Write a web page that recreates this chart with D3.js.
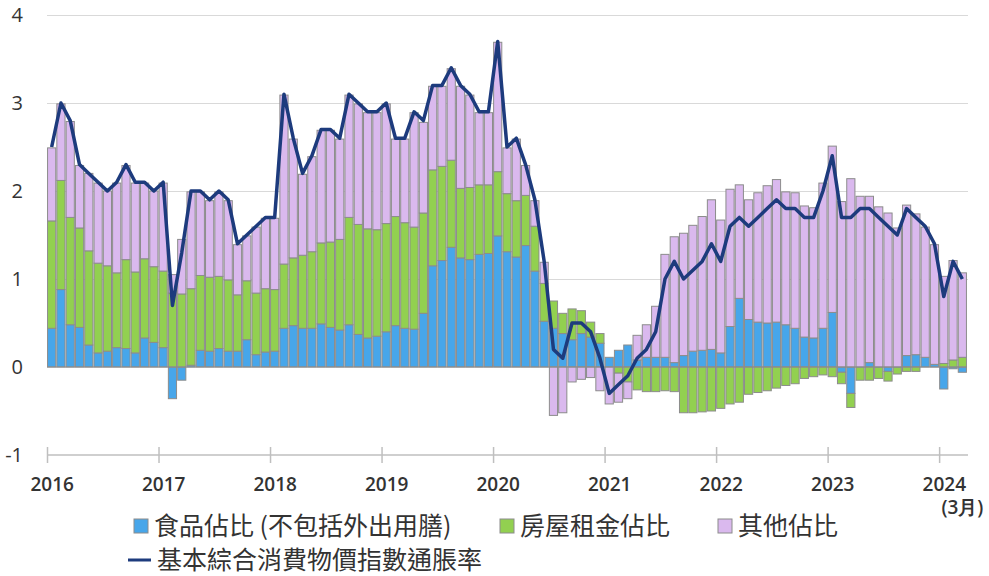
<!DOCTYPE html>
<html>
<head>
<meta charset="utf-8">
<script src="https://cdn.jsdelivr.net/npm/d3@7"></script>
<style>
    html, body { margin: 0; padding: 0; background: #fff; }
    svg text { font-family: "Open Sans", "Noto Sans", sans-serif; fill: #333; }
    .legend text { font-family: "Noto Sans CJK TC", "Noto Sans", sans-serif; }
</style>
</head>
<body>
<svg id="chart" width="989" height="576"></svg>
<script>
'use strict';

// monthly categories Jan 2016 .. Mar 2024
const months = d3.timeMonths(new Date(2016, 0, 1), new Date(2024, 3, 1)).map(d3.timeFormat('%Y-%m'));
const yearLabels = ['2016', '2017', '2018', '2019', '2020', '2021', '2022', '2023', '2024'];
const yTicks = [-1, 0, 1, 2, 3, 4];

// contribution (percentage points)
const food = [
    0.44, 0.88, 0.48, 0.45, 0.25, 0.16, 0.18, 0.22, 0.21, 0.16, 0.33, 0.28,
    0.22, -0.36, -0.15, 0.02, 0.19, 0.18, 0.21, 0.18, 0.18, 0.31, 0.14, 0.17,
    0.18, 0.44, 0.47, 0.44, 0.44, 0.49, 0.45, 0.42, 0.48, 0.37, 0.33, 0.35,
    0.40, 0.47, 0.44, 0.43, 0.61, 1.15, 1.21, 1.36, 1.24, 1.22, 1.28, 1.29,
    1.49, 1.31, 1.25, 1.38, 1.09, 0.52, 0.44, 0.38, 0.31, 0.38, 0.34, 0.27,
    0.11, 0.19, 0.25, 0.08, 0.11, 0.11, 0.11, 0.05, 0.13, 0.18, 0.19, 0.20,
    0.16, 0.46, 0.78, 0.54, 0.51, 0.50, 0.51, 0.48, 0.44, 0.34, 0.33, 0.44,
    0.62, -0.06, -0.30, 0.00, 0.05, 0.00, -0.05, 0.00, 0.13, 0.14, 0.11, 0.03,
    -0.25, -0.02, -0.06
];
const rent = [
    1.22, 1.24, 1.22, 1.13, 1.07, 1.02, 0.97, 0.85, 1.01, 0.92, 0.90, 0.86,
    0.87, 0.84, 0.83, 0.87, 0.85, 0.84, 0.82, 0.81, 0.64, 0.67, 0.70, 0.72,
    0.70, 0.73, 0.77, 0.83, 0.87, 0.92, 0.97, 1.03, 1.22, 1.25, 1.24, 1.21,
    1.23, 1.24, 1.20, 1.16, 1.14, 1.09, 1.07, 0.99, 0.79, 0.82, 0.79, 0.78,
    0.73, 0.66, 0.64, 0.57, 0.51, 0.43, 0.31, 0.23, 0.35, 0.26, 0.17, 0.11,
    0.00, -0.07, -0.17, -0.26, -0.28, -0.28, -0.27, -0.28, -0.52, -0.52, -0.51, -0.50,
    -0.47, -0.42, -0.40, -0.31, -0.29, -0.27, -0.24, -0.21, -0.19, -0.13, -0.11, -0.09,
    -0.11, -0.13, -0.16, -0.15, -0.15, -0.13, -0.11, -0.08, -0.05, -0.05, 0.00, 0.00,
    0.04, 0.08, 0.11
];
const other = [
    0.83, 0.87, 1.09, 0.71, 0.88, 0.91, 0.85, 1.02, 1.07, 1.01, 0.86, 0.86,
    1.00, 0.21, 0.62, 1.10, 0.95, 0.87, 0.96, 0.90, 0.57, 0.51, 0.75, 0.80,
    0.81, 1.92, 1.35, 0.92, 1.08, 1.28, 1.27, 1.14, 1.39, 1.37, 1.32, 1.33,
    1.36, 0.88, 0.95, 1.30, 1.03, 0.95, 0.91, 1.04, 1.16, 1.05, 0.82, 0.82,
    1.47, 0.52, 0.70, 0.34, 0.29, 0.24, -0.55, -0.52, -0.17, -0.14, -0.12, -0.27,
    -0.42, -0.33, -0.19, 0.28, 0.37, 0.58, 1.17, 1.43, 1.39, 1.43, 1.52, 1.70,
    1.51, 1.56, 1.29, 1.36, 1.47, 1.56, 1.62, 1.51, 1.54, 1.49, 1.48, 1.65,
    1.89, 1.88, 2.14, 1.94, 1.89, 1.82, 1.75, 1.58, 1.71, 1.60, 1.48, 1.36,
    0.99, 1.13, 0.96
];
// underlying composite CPI inflation (%)
const cpi = [
    2.5, 3.0, 2.8, 2.3, 2.2, 2.1, 2.0, 2.1, 2.3, 2.1, 2.1, 2.0,
    2.1, 0.7, 1.3, 2.0, 2.0, 1.9, 2.0, 1.9, 1.4, 1.5, 1.6, 1.7,
    1.7, 3.1, 2.6, 2.2, 2.4, 2.7, 2.7, 2.6, 3.1, 3.0, 2.9, 2.9,
    3.0, 2.6, 2.6, 2.9, 2.8, 3.2, 3.2, 3.4, 3.2, 3.1, 2.9, 2.9,
    3.7, 2.5, 2.6, 2.3, 1.9, 1.2, 0.2, 0.1, 0.5, 0.5, 0.4, 0.1,
    -0.3, -0.2, -0.1, 0.1, 0.2, 0.4, 1.0, 1.2, 1.0, 1.1, 1.2, 1.4,
    1.2, 1.6, 1.7, 1.6, 1.7, 1.8, 1.9, 1.8, 1.8, 1.7, 1.7, 2.0,
    2.4, 1.7, 1.7, 1.8, 1.8, 1.7, 1.6, 1.5, 1.8, 1.7, 1.6, 1.4,
    0.8, 1.2, 1.0
];

const seriesNames = ['食品佔比 (不包括外出用膳)', '房屋租金佔比', '其他佔比'];
const lineName = '基本綜合消費物價指數通脹率';

(function() {
    const colors = ['#47a6ea', '#92d050', '#dab9ee'];
    const left = 47, right = 967, top = 15, bottom = 455;
    const svg = d3.select('#chart');

    const rows = months.map((m, i) => ({month: m, food: food[i], rent: rent[i], other: other[i]}));
    const keys = ['food', 'rent', 'other'];

    const x = d3.scaleBand()
        .domain(months)
        .range([left, right])
        .paddingInner(0.12)
        .paddingOuter(0.06);

    const xi = d3.scaleLinear()
        .domain([0, months.length])
        .range([left, right]);

    const y = d3.scaleLinear()
        .domain([-1, 4])
        .range([bottom, top]);

    const stack = d3.stack()
        .keys(keys)
        .offset(d3.stackOffsetDiverging);
    const series = stack(rows);

    // Grid
    const grid = svg.append('g')
        .attr('transform', 'translate(' + left + ',0)')
        .call(d3.axisLeft(y)
            .tickValues(yTicks)
            .tickFormat(d => String(d))
            .tickSize(-(right - left + 1)));
    grid.select('.domain').remove();
    grid.selectAll('line')
        .attr('stroke', '#d9d9d9')
        .attr('stroke-width', 1.2)
        .attr('display', d => d <= 0 ? 'none' : null);
    grid.selectAll('text')
        .attr('x', -24)
        .style('font-size', '20px')
        .style('fill', '#333');

    // X axis
    const xAxis = svg.append('g')
        .attr('transform', 'translate(0,' + bottom + ')')
        .call(d3.axisBottom(xi)
            .tickValues(d3.range(0, months.length, 12))
            .tickFormat(d => yearLabels[d / 12])
            .tickSizeOuter(0)
            .tickSizeInner(8));
    xAxis.select('.domain')
        .attr('stroke', '#bfbfbf')
        .attr('stroke-width', 1.5)
        .attr('d', 'M' + left + ',0H' + (right + 1));
    xAxis.selectAll('.tick line')
        .attr('stroke', '#bfbfbf')
        .attr('stroke-width', 1.5)
        .attr('y1', -8)
        .attr('y2', 8);
    xAxis.selectAll('.tick text')
        .attr('x', x.step() / 2)
        .attr('y', 23)
        .style('font-size', '19px')
        .style('font-weight', 600)
        .style('fill', '#333');
    xAxis.append('text')
        .attr('x', x(months[months.length - 1]) + x.bandwidth() / 2)
        .attr('y', 46)
        .attr('dy', '0.71em')
        .attr('text-anchor', 'middle')
        .style('font-size', '19px')
        .style('font-weight', 600)
        .text('(3月)');

    // Bars
    svg.append('g')
        .selectAll('g')
        .data(series)
        .enter()
        .append('g')
        .attr('fill', (d, i) => colors[i])
        .selectAll('rect')
        .data(d => d)
        .enter()
        .append('rect')
        .attr('x', d => x(d.data.month))
        .attr('width', x.bandwidth())
        .attr('y', d => y(Math.max(d[0], d[1])))
        .attr('height', d => Math.abs(y(d[0]) - y(d[1])))
        .attr('stroke', '#8c8c8c')
        .attr('stroke-width', 1);

    // zero line
    svg.append('line')
        .attr('x1', left)
        .attr('x2', right)
        .attr('y1', y(0))
        .attr('y2', y(0))
        .attr('stroke', '#8c8c8c')
        .attr('stroke-width', 1.2);

    // CPI line
    svg.append('path')
        .datum(cpi)
        .attr('fill', 'none')
        .attr('stroke', '#1d3b7d')
        .attr('stroke-width', 3.5)
        .attr('stroke-linejoin', 'round')
        .attr('d', d3.line()
            .x((d, i) => x(months[i]) + x.bandwidth() / 2)
            .y(d => y(d)));

    // Legend
    const legend = svg.append('g').attr('class', 'legend');
    const items = [
        {x: 134, y: 526, color: colors[0], name: seriesNames[0]},
        {x: 500, y: 526, color: colors[1], name: seriesNames[1]},
        {x: 718, y: 526, color: colors[2], name: seriesNames[2]}
    ];
    items.forEach(it => {
        legend.append('rect')
            .attr('x', it.x)
            .attr('y', it.y - 7)
            .attr('width', 14)
            .attr('height', 14)
            .attr('fill', it.color)
            .attr('stroke', '#8c8c8c');
        legend.append('text')
            .attr('x', it.x + 20)
            .attr('y', it.y)
            .attr('dy', '0.36em')
            .style('font-size', '25px')
            .text(it.name);
    });
    legend.append('line')
        .attr('x1', 128)
        .attr('x2', 151)
        .attr('y1', 560)
        .attr('y2', 560)
        .attr('stroke', '#1d3b7d')
        .attr('stroke-width', 3);
    legend.append('text')
        .attr('x', 157)
        .attr('y', 560)
        .attr('dy', '0.36em')
        .style('font-size', '25px')
        .text(lineName);
}());
</script>
</body>
</html>
